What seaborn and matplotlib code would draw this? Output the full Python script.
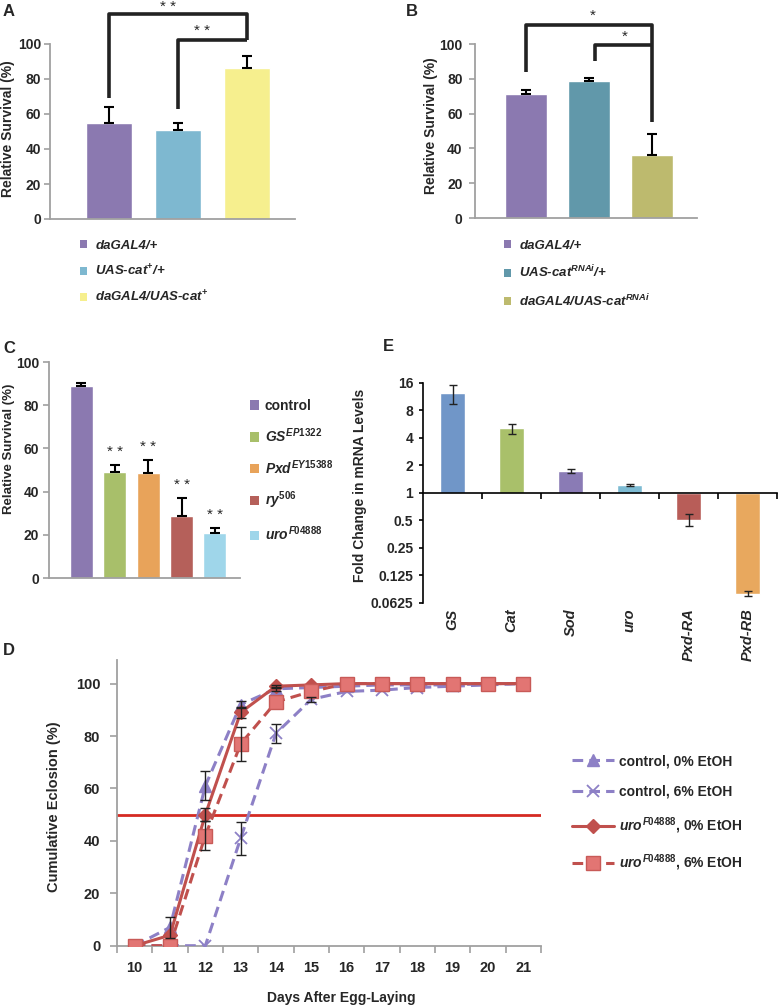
import matplotlib
matplotlib.use('Agg')
import matplotlib.pyplot as plt
import matplotlib.transforms as mtransforms
from matplotlib.patches import Patch
from matplotlib.lines import Line2D
import seaborn as sns
import numpy as np

sns.set_theme(style='white')
plt.rcParams['font.family'] = ['Liberation Sans', 'DejaVu Sans']
plt.rcParams['font.weight'] = 'bold'
plt.rcParams['mathtext.fontset'] = 'custom'
plt.rcParams['mathtext.rm'] = 'Liberation Sans:bold'
plt.rcParams['mathtext.it'] = 'Liberation Sans:italic:bold'
plt.rcParams['mathtext.bf'] = 'Liberation Sans:bold'

# ---- data ----
# A: catalase overexpression
a_labels = ['daGAL4/+', 'UAS-cat$^{+}$/+', 'daGAL4/UAS-cat$^{+}$']
a_survival = [55, 51, 86]
a_err = [9, 4, 7]
a_colors = ['#8B79B0', '#7EB8D0', '#F6EF8E']

# B: catalase knockdown
b_labels = ['daGAL4/+', 'UAS-cat$^{RNAi}$/+', 'daGAL4/UAS-cat$^{RNAi}$']
b_survival = [71, 79, 36]
b_err = [2.5, 1.5, 12]
b_colors = ['#8B79B0', '#6198AA', '#BDBA6E']

# C: mutants
c_labels = ['control', r'$\mathit{GS}^{\mathit{EP1322}}$', r'$\mathit{Pxd}^{\mathit{EY15388}}$',
            r'$\mathit{ry}^{\mathit{506}}$', r'$\mathit{uro}^{\mathit{F04888}}$']
c_survival = [89, 49, 48.5, 28.5, 21]
c_err = [1.2, 3.5, 6, 8.5, 2.3]
c_colors = ['#8B79B0', '#A8BF6A', '#E8A35A', '#B5605A', '#9FD6EA']

# D: cumulative eclosion
days = [10, 11, 12, 13, 14, 15, 16, 17, 18, 19, 20, 21]
ctrl0 = [0, 7, 61, 92, 98, 98.5, 99, 99.5, 99.5, 99.5, 100, 100]
ctrl0_err = [0, 4, 5.5, 1.5, 0.8, 0, 0, 0, 0, 0, 0, 0]
ctrl6 = [0, 0, 0, 41, 81, 94, 97, 97.5, 98.5, 99, 99.5, 100]
ctrl6_err = [0, 0, 0, 6.3, 3.7, 1, 0, 0, 0, 0, 0, 0]
uro0 = [0, 4, 50, 89, 99, 99.5, 100, 100, 100, 100, 100, 100]
uro0_err = [0, 0, 2.5, 2, 0.5, 0, 0, 0, 0, 0, 0, 0]
uro6 = [0, 0, 42, 77, 93, 97, 100, 100, 100, 100, 100, 100]
uro6_err = [0, 0, 5.5, 6.5, 0, 0, 0, 0, 0, 0, 0, 0]

# E: qPCR fold change
e_genes = ['GS', 'Cat', 'Sod', 'uro', 'Pxd-RA', 'Pxd-RB']
e_fold = [12.2, 5.1, 1.74, 1.22, 0.51, 0.079]
e_low = [9.3, 4.4, 1.63, 1.18, 0.43, 0.075]
e_high = [15.1, 5.7, 1.83, 1.26, 0.58, 0.084]
e_colors = ['#7096C8', '#A9C06A', '#8A7BB5', '#7DBBD3', '#B85D58', '#E8A85E']

W, H = 779, 1006
fig = plt.figure(figsize=(W / 100, H / 100), dpi=100)


def px_axes(x0, y0, x1, y1):
    return fig.add_axes([x0 / W, 1 - y1 / H, (x1 - x0) / W, (y1 - y0) / H])


def survival_bars(ax, vals, errs, colors, width, xlim, fs, pad):
    keys = [str(i) for i in range(len(vals))]
    sns.barplot(x=keys, y=vals, hue=keys, palette=colors, legend=False,
                saturation=1, width=width, ax=ax)
    ax.errorbar(range(len(vals)), vals, yerr=[np.zeros(len(errs)), errs], fmt='none',
                ecolor='black', elinewidth=1.5, capsize=3.5, capthick=1.5)
    ax.set_xlim(*xlim)
    ax.set_ylim(0, 100)
    ax.set_yticks(range(0, 101, 20))
    ax.set_xticks([])
    ax.set_xlabel('')
    sns.despine(ax=ax)
    for s in ('left', 'bottom'):
        ax.spines[s].set_color('#a0a0a0')
        ax.spines[s].set_linewidth(1.3)
    ax.tick_params(axis='y', left=True, length=4, width=1.2, color='#a0a0a0',
                   labelsize=fs, pad=pad)


def bracket(ax, pts):
    xs, ys = zip(*pts)
    ax.plot(xs, ys, color='#222222', lw=2.6, clip_on=False, solid_capstyle='butt')


# ---- A ----
axA = px_axes(50, 44, 295, 219)
survival_bars(axA, a_survival, a_err, a_colors, 0.67, (-0.855, 2.70), 10, 2.5)
axA.set_ylabel('Relative Survival (%)', fontsize=10, fontweight='bold')
axA.yaxis.set_label_coords(-0.143, 0.517)
bracket(axA, [(0, 69), (0, 117), (2, 117), (2, 102)])
bracket(axA, [(1, 63), (1, 102), (2, 102)])
axA.text(0.85, 121, '* *', ha='center', va='center', fontsize=11, fontweight='normal')
axA.text(1.35, 107.5, '* *', ha='center', va='center', fontsize=11, fontweight='normal')

# ---- B ----
axB = px_axes(475, 44, 697, 218)
survival_bars(axB, b_survival, b_err, b_colors, 0.67, (-0.81, 2.71), 10, 5)
axB.set_ylabel('Relative Survival (%)', fontsize=10, fontweight='bold')
axB.yaxis.set_label_coords(-0.167, 0.53)
bracket(axB, [(0, 84), (0, 111), (2, 111), (2, 55)])
bracket(axB, [(1.1, 90), (1.1, 99.5), (2, 99.5)])
axB.text(1.05, 116, '*', ha='center', va='center', fontsize=11, fontweight='normal')
axB.text(1.56, 104, '*', ha='center', va='center', fontsize=11, fontweight='normal')

# ---- C ----
axC = px_axes(49, 362, 240, 578)
survival_bars(axC, c_survival, c_err, c_colors, 0.69, (-0.97, 4.75), 10, 3)
axC.set_ylabel('Relative Survival (%)', fontsize=9.5, fontweight='bold')
axC.yaxis.set_label_coords(-0.178, 0.60)
for i in range(1, 5):
    axC.text(i, c_survival[i] + c_err[i] + 6, '* *', ha='center', va='center',
             fontsize=11, fontweight='normal')

# legends for A, B, C
leg_kw = dict(loc='upper left', frameon=False, borderpad=0, borderaxespad=0,
              handletextpad=0.6)
fig.legend([Patch(facecolor=c, edgecolor='none') for c in a_colors], a_labels,
           bbox_to_anchor=(80 / W, 1 - 240 / H), handlelength=0.55, handleheight=0.55,
           labelspacing=0.85, prop=dict(size=9.5, style='italic', weight='bold'), **leg_kw)
fig.legend([Patch(facecolor=c, edgecolor='none') for c in b_colors], b_labels,
           bbox_to_anchor=(504 / W, 1 - 240 / H), handlelength=0.55, handleheight=0.55,
           labelspacing=0.9, prop=dict(size=9.5, style='italic', weight='bold'), **leg_kw)
leg_kw['handletextpad'] = 0.4
fig.legend([Patch(facecolor=c, edgecolor='none') for c in c_colors], c_labels,
           bbox_to_anchor=(250 / W, 1 - 399 / H), handlelength=0.65, handleheight=0.65,
           labelspacing=0.95, prop=dict(size=10, weight='bold'), **leg_kw)

# ---- E ----
axE = px_axes(423, 382.7, 777, 603)
log_fold = np.log2(e_fold)
sns.barplot(x=e_genes, y=log_fold, hue=e_genes, palette=e_colors, legend=False,
            saturation=1, width=0.41, ax=axE)
axE.errorbar(range(len(e_genes)), log_fold,
             yerr=[log_fold - np.log2(e_low), np.log2(e_high) - log_fold],
             fmt='none', ecolor='#222222', elinewidth=1, capsize=3, capthick=1)
axE.set_xlim(-0.5, 5.5)
axE.set_ylim(-4, 4)
axE.set_yticks(range(-4, 5))
axE.set_yticklabels(['0.0625', '0.125', '0.25', '0.5', '1', '2', '4', '8', '16'])
sns.despine(ax=axE)
axE.spines['bottom'].set_position(('data', 0))
for s in ('left', 'bottom'):
    axE.spines[s].set_color('black')
    axE.spines[s].set_linewidth(1.2)
axE.set_xticks(np.arange(0.5, 6, 1))
axE.set_xticklabels([])
axE.set_xlabel('')
axE.tick_params(axis='x', bottom=True, length=4, width=1.2, color='black')
axE.tick_params(axis='y', left=True, length=3, width=1.2, color='black',
                labelsize=10, pad=4)
axE.set_ylabel('Fold Change in mRNA Levels', fontsize=10, fontweight='bold')
axE.yaxis.set_label_coords(-0.158, 0.536)
trans = mtransforms.blended_transform_factory(axE.transData, axE.transAxes)
for i, g in enumerate(e_genes):
    axE.text(i, -0.025, g, transform=trans, rotation=90, ha='center', va='top',
             fontsize=10.5, fontweight='bold', style='italic')

# ---- D ----
axD = px_axes(117, 660, 541, 945.7)
purple = '#8D80C6'
red = '#C0504D'
series = [
    (ctrl0, ctrl0_err, dict(color=purple, linestyle=(0, (3.5, 2)), marker='^', markersize=9,
                            markerfacecolor=purple, markeredgecolor=purple, markeredgewidth=1)),
    (ctrl6, ctrl6_err, dict(color=purple, linestyle=(0, (3.5, 2)), marker='x', markersize=9,
                            markerfacecolor=purple, markeredgecolor=purple, markeredgewidth=1.3)),
    (uro0, uro0_err, dict(color=red, linestyle='-', marker='D', markersize=7,
                          markerfacecolor=red, markeredgecolor=red, markeredgewidth=1)),
    (uro6, uro6_err, dict(color=red, linestyle=(0, (3.5, 2)), marker='s', markersize=9.5,
                          markerfacecolor='#E27573', markeredgecolor='#C85A57', markeredgewidth=1)),
]
axD.axhline(50, color='#D52A22', lw=2, zorder=1.5)
for vals, errs, kw in series:
    sns.lineplot(x=days, y=vals, ax=axD, errorbar=None, lw=2.2, zorder=3, **kw)
    errs = np.array(errs)
    m = errs > 0
    axD.errorbar(np.array(days)[m], np.array(vals)[m], yerr=errs[m], fmt='none',
                 ecolor='#222222', elinewidth=1, capsize=3.5, capthick=1, zorder=4)
axD.set_xlim(9.5, 21.5)
axD.set_ylim(0, 109)
axD.set_yticks(range(0, 101, 20))
axD.set_xticks(days)
axD.set_xticks(np.arange(9.5, 22, 1), minor=True)
sns.despine(ax=axD)
for s in ('left', 'bottom'):
    axD.spines[s].set_color('#a0a0a0')
    axD.spines[s].set_linewidth(1.3)
axD.tick_params(axis='x', which='major', bottom=True, length=0, labelsize=10.5, pad=11)
axD.tick_params(axis='x', which='minor', bottom=True, length=5, width=1.2, color='#a0a0a0')
axD.tick_params(axis='y', left=True, length=5, width=1.2, color='#a0a0a0',
                labelsize=10.5, pad=7)
axD.set_xlabel('Days After Egg-Laying', fontsize=10, fontweight='bold')
axD.xaxis.set_label_coords(0.53, -0.16)
axD.set_ylabel('Cumulative Eclosion (%)', fontsize=10.5, fontweight='bold')
axD.yaxis.set_label_coords(-0.132, 0.487)

d_labels = ['control, 0% EtOH', 'control, 6% EtOH',
            r'$\mathit{uro}^{\mathit{F04888}}$, 0% EtOH', r'$\mathit{uro}^{\mathit{F04888}}$, 6% EtOH']
d_handles = [Line2D([], [], lw=2.2, **kw) for _, _, kw in series]
fig.legend(d_handles, d_labels, loc='upper left', bbox_to_anchor=(572 / W, 1 - 754 / H),
           frameon=False, borderpad=0, borderaxespad=0, handlelength=3.0,
           handletextpad=0.4, labelspacing=1.2, prop=dict(size=10, weight='bold'))

# panel letters
for letter, x, y in [('A', 3, 4), ('B', 406, 4), ('C', 3, 341), ('D', 3, 643), ('E', 383, 339)]:
    fig.text(x / W, 1 - y / H, letter, fontsize=12, fontweight='bold', ha='left', va='top')

fig.savefig('out.png', dpi=100)
